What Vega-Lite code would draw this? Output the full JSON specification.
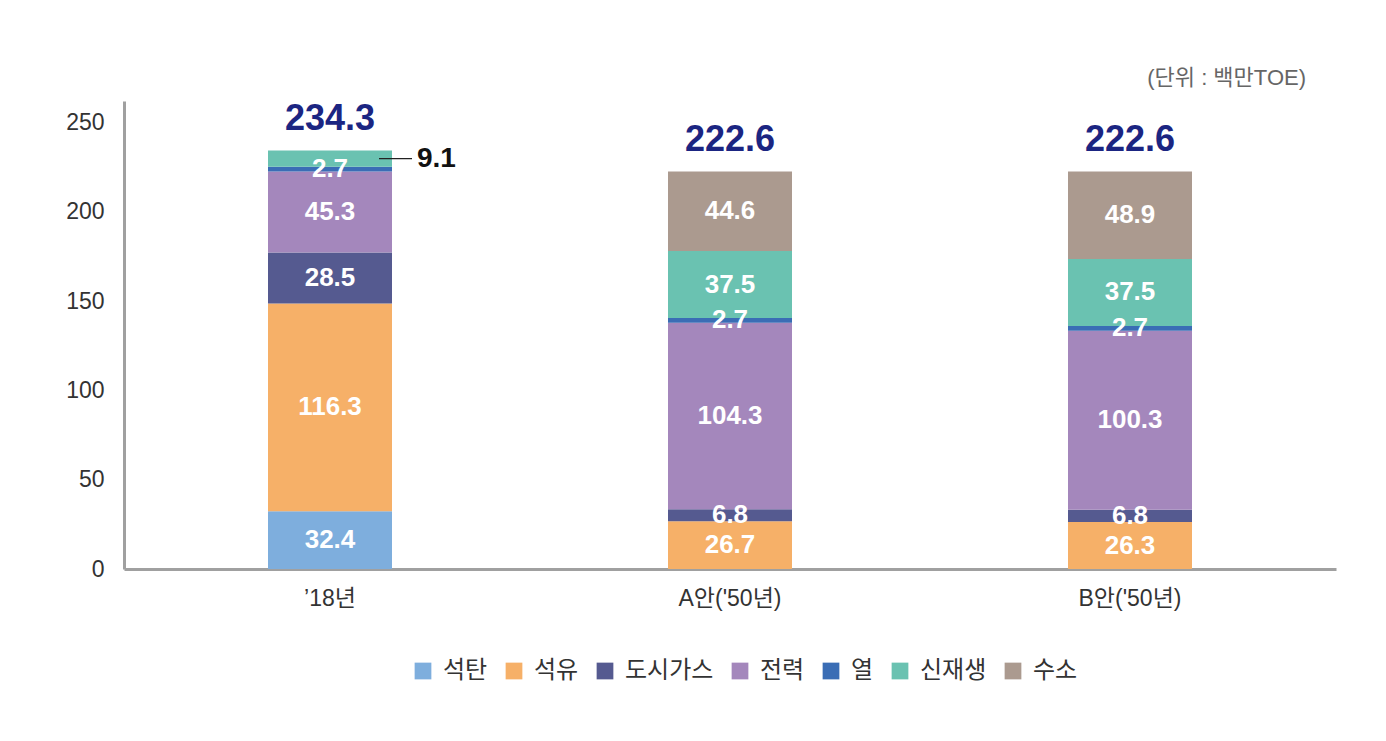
{
  "$schema": "https://vega.github.io/schema/vega-lite/v6.json",
  "width": 1212,
  "height": 468,
  "autosize": {"type": "none"},
  "padding": {"left": 124, "top": 101, "right": 50, "bottom": 172},
  "background": "white",
  "config": {
    "font": "'Liberation Sans', 'Noto Sans CJK KR', sans-serif",
    "view": {"stroke": null}
  },
  "title": {
    "text": "(단위 : 백만TOE)",
    "anchor": "end",
    "orient": "top",
    "fontSize": 22,
    "fontWeight": "normal",
    "color": "#666666",
    "font": "'Liberation Sans', 'Noto Sans CJK KR', sans-serif",
    "offset": 11,
    "dx": -30
  },
  "datasets": {
    "totals": [
      {"case": "’18년", "total": 234.3, "label": "234.3"},
      {"case": "A안('50년)", "total": 222.6, "label": "222.6"},
      {"case": "B안('50년)", "total": 222.6, "label": "222.6"}
    ]
  },
  "data": {
    "values": [
      {"case": "’18년", "source": "석탄", "order": 1, "value": 32.4},
      {"case": "’18년", "source": "석유", "order": 2, "value": 116.3},
      {"case": "’18년", "source": "도시가스", "order": 3, "value": 28.5},
      {"case": "’18년", "source": "전력", "order": 4, "value": 45.3},
      {"case": "’18년", "source": "열", "order": 5, "value": 2.7},
      {"case": "’18년", "source": "신재생", "order": 6, "value": 9.1},
      {"case": "A안('50년)", "source": "석유", "order": 2, "value": 26.7},
      {"case": "A안('50년)", "source": "도시가스", "order": 3, "value": 6.8},
      {"case": "A안('50년)", "source": "전력", "order": 4, "value": 104.3},
      {"case": "A안('50년)", "source": "열", "order": 5, "value": 2.7},
      {"case": "A안('50년)", "source": "신재생", "order": 6, "value": 37.5},
      {"case": "A안('50년)", "source": "수소", "order": 7, "value": 44.6},
      {"case": "B안('50년)", "source": "석유", "order": 2, "value": 26.3},
      {"case": "B안('50년)", "source": "도시가스", "order": 3, "value": 6.8},
      {"case": "B안('50년)", "source": "전력", "order": 4, "value": 100.3},
      {"case": "B안('50년)", "source": "열", "order": 5, "value": 2.7},
      {"case": "B안('50년)", "source": "신재생", "order": 6, "value": 37.5},
      {"case": "B안('50년)", "source": "수소", "order": 7, "value": 48.9}
    ]
  },
  "transform": [
    {"stack": "value", "groupby": ["case"], "sort": [{"field": "order", "order": "ascending"}], "as": ["y0", "y1"]},
    {"calculate": "(datum.y0 + datum.y1) / 2", "as": "ymid"}
  ],
  "encoding": {
    "x": {
      "field": "case",
      "type": "nominal",
      "sort": ["’18년", "A안('50년)", "B안('50년)"],
      "scale": {"paddingInner": 0.69, "paddingOuter": 0.36},
      "axis": {
        "title": null,
        "labelAngle": 0,
        "labelFontSize": 23,
        "labelColor": "#333333",
        "labelPadding": 18,
        "ticks": false,
        "domainColor": "#a0a0a0",
        "domainWidth": 3
      }
    }
  },
  "layer": [
    {
      "mark": {"type": "bar"},
      "encoding": {
        "y": {
          "field": "y0",
          "type": "quantitative",
          "scale": {"domain": [0, 262], "nice": false},
          "axis": {
            "title": null,
            "values": [0, 50, 100, 150, 200, 250],
            "labelFontSize": 23,
            "labelColor": "#333333",
            "labelPadding": 20,
            "ticks": false,
            "grid": false,
            "domainColor": "#a0a0a0",
            "domainWidth": 3
          }
        },
        "y2": {"field": "y1"},
        "color": {
          "field": "source",
          "type": "nominal",
          "scale": {
            "domain": ["석탄", "석유", "도시가스", "전력", "열", "신재생", "수소"],
            "range": ["#7EAEDD", "#F6B068", "#555A90", "#A487BC", "#3A6DB5", "#6AC2B1", "#AB9A8F"]
          },
          "legend": {
            "title": null,
            "orient": "none",
            "legendX": 287,
            "legendY": 558,
            "direction": "horizontal",
            "symbolType": "square",
            "symbolSize": 280,
            "symbolStrokeWidth": 0,
            "labelFontSize": 24,
            "labelColor": "#333333",
            "labelOffset": 8,
            "columnPadding": 14
          }
        }
      }
    },
    {
      "transform": [{"filter": "!(datum.case == '’18년' && datum.source == '신재생')"}],
      "mark": {"type": "text", "color": "white", "fontSize": 26, "fontWeight": "bold", "baseline": "middle"},
      "encoding": {
        "y": {"field": "ymid", "type": "quantitative"},
        "text": {"field": "value", "type": "quantitative", "format": ".1f"}
      }
    },
    {
      "transform": [{"filter": "datum.case == '’18년' && datum.source == '신재생'"}],
      "mark": {"type": "rule", "color": "#222222", "strokeWidth": 1.2, "xOffset": 49, "x2Offset": 82},
      "encoding": {
        "y": {"field": "ymid", "type": "quantitative"},
        "x2": {"field": "case"}
      }
    },
    {
      "transform": [{"filter": "datum.case == '’18년' && datum.source == '신재생'"}],
      "mark": {"type": "text", "color": "#111111", "fontSize": 28, "fontWeight": "bold", "baseline": "middle", "align": "left", "dx": 87},
      "encoding": {
        "y": {"field": "ymid", "type": "quantitative"},
        "text": {"field": "value", "type": "quantitative", "format": ".1f"}
      }
    },
    {
      "data": {"name": "totals"},
      "transform": [],
      "mark": {"type": "text", "color": "#1B2582", "fontSize": 36, "fontWeight": "bold", "baseline": "bottom", "dy": -12},
      "encoding": {
        "y": {"field": "total", "type": "quantitative"},
        "text": {"field": "label", "type": "nominal"}
      }
    }
  ]
}
